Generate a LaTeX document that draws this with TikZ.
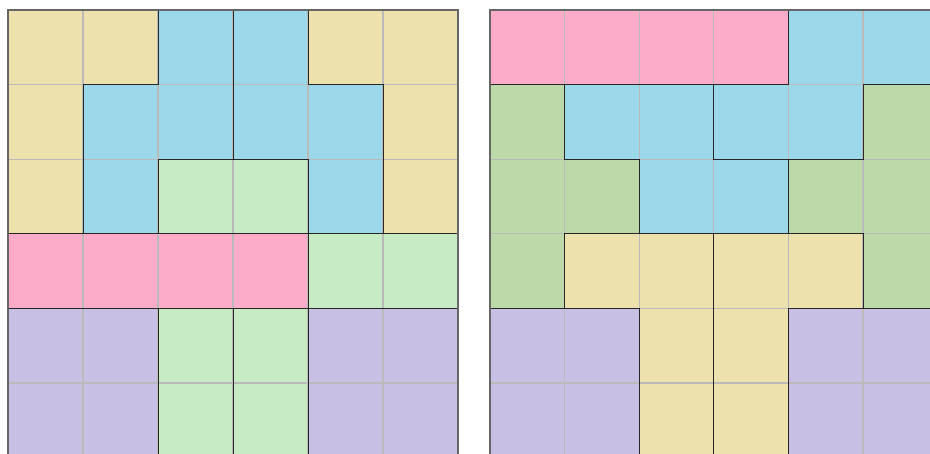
\documentclass[tikz,border=0pt]{standalone}
\definecolor{cyel}{RGB}{237,225,174}
\definecolor{cblu}{RGB}{155,216,234}
\definecolor{cgrnA}{RGB}{198,235,197}
\definecolor{cgrnB}{RGB}{190,217,169}
\definecolor{cpnk}{RGB}{252,172,200}
\definecolor{cvio}{RGB}{199,192,228}
\tikzset{
  gridline/.style={draw=black!27,line width=1.1bp},
  piece/.style={draw=black!85,line width=1bp,line join=miter},
  outerline/.style={draw=black!60,line width=2bp},
}
\newcommand{\cellfill}[3]{\fill[#3] (#1,#2) rectangle ++(1,1);}
\newcommand{\gridlines}{\foreach \k in {1,...,5}{\draw[gridline] (\k,0) -- (\k,6); \draw[gridline] (0,\k) -- (6,\k);}}
\begin{document}
\begin{tikzpicture}[x=1bp,y=-1bp]
\useasboundingbox (0,0) rectangle (930,454);
\clip (0,0) rectangle (930,454);
% ---------- left grid ----------
\begin{scope}[shift={(8,10)},xscale=75,yscale=74.6]
  % row 0
  \cellfill{0}{0}{cyel}\cellfill{1}{0}{cyel}\cellfill{2}{0}{cblu}\cellfill{3}{0}{cblu}\cellfill{4}{0}{cyel}\cellfill{5}{0}{cyel}
  % row 1
  \cellfill{0}{1}{cyel}\cellfill{1}{1}{cblu}\cellfill{2}{1}{cblu}\cellfill{3}{1}{cblu}\cellfill{4}{1}{cblu}\cellfill{5}{1}{cyel}
  % row 2
  \cellfill{0}{2}{cyel}\cellfill{1}{2}{cblu}\cellfill{2}{2}{cgrnA}\cellfill{3}{2}{cgrnA}\cellfill{4}{2}{cblu}\cellfill{5}{2}{cyel}
  % row 3
  \cellfill{0}{3}{cpnk}\cellfill{1}{3}{cpnk}\cellfill{2}{3}{cpnk}\cellfill{3}{3}{cpnk}\cellfill{4}{3}{cgrnA}\cellfill{5}{3}{cgrnA}
  % rows 4-5
  \foreach \r in {4,5}{
    \cellfill{0}{\r}{cvio}\cellfill{1}{\r}{cvio}\cellfill{2}{\r}{cgrnA}\cellfill{3}{\r}{cgrnA}\cellfill{4}{\r}{cvio}\cellfill{5}{\r}{cvio}
  }
  \gridlines
  % pieces
  \draw[piece] (0,0) -- (2,0) -- (2,1) -- (1,1) -- (1,3) -- (0,3) -- cycle;
  \draw[piece] (4,0) -- (6,0) -- (6,3) -- (5,3) -- (5,1) -- (4,1) -- cycle;
  \draw[piece] (2,0) -- (3,0) -- (3,2) -- (2,2) -- (2,3) -- (1,3) -- (1,1) -- (2,1) -- cycle;
  \draw[piece] (3,0) -- (4,0) -- (4,1) -- (5,1) -- (5,3) -- (4,3) -- (4,2) -- (3,2) -- cycle;
  \draw[piece] (2,2) rectangle (4,3);
  \draw[piece] (0,3) rectangle (4,4);
  \draw[piece] (4,3) rectangle (6,4);
  \draw[piece] (0,4) rectangle (2,6);
  \draw[piece] (2,4) rectangle (3,6);
  \draw[piece] (3,4) rectangle (4,6);
  \draw[piece] (4,4) rectangle (6,6);
  \draw[outerline] (0,0) rectangle (6,6);
\end{scope}
% ---------- right grid ----------
\begin{scope}[shift={(490,10)},xscale=74.6,yscale=74.6]
  % row 0
  \cellfill{0}{0}{cpnk}\cellfill{1}{0}{cpnk}\cellfill{2}{0}{cpnk}\cellfill{3}{0}{cpnk}\cellfill{4}{0}{cblu}\cellfill{5}{0}{cblu}
  % row 1
  \cellfill{0}{1}{cgrnB}\cellfill{1}{1}{cblu}\cellfill{2}{1}{cblu}\cellfill{3}{1}{cblu}\cellfill{4}{1}{cblu}\cellfill{5}{1}{cgrnB}
  % row 2
  \cellfill{0}{2}{cgrnB}\cellfill{1}{2}{cgrnB}\cellfill{2}{2}{cblu}\cellfill{3}{2}{cblu}\cellfill{4}{2}{cgrnB}\cellfill{5}{2}{cgrnB}
  % row 3
  \cellfill{0}{3}{cgrnB}\cellfill{1}{3}{cyel}\cellfill{2}{3}{cyel}\cellfill{3}{3}{cyel}\cellfill{4}{3}{cyel}\cellfill{5}{3}{cgrnB}
  % rows 4-5
  \foreach \r in {4,5}{
    \cellfill{0}{\r}{cvio}\cellfill{1}{\r}{cvio}\cellfill{2}{\r}{cyel}\cellfill{3}{\r}{cyel}\cellfill{4}{\r}{cvio}\cellfill{5}{\r}{cvio}
  }
  \gridlines
  % pieces
  \draw[piece] (0,0) rectangle (4,1);
  \draw[piece] (4,0) -- (6,0) -- (6,1) -- (5,1) -- (5,2) -- (3,2) -- (3,1) -- (4,1) -- cycle;
  \draw[piece] (0,1) -- (1,1) -- (1,2) -- (2,2) -- (2,3) -- (1,3) -- (1,4) -- (0,4) -- cycle;
  \draw[piece] (1,1) -- (3,1) -- (3,2) -- (4,2) -- (4,3) -- (2,3) -- (2,2) -- (1,2) -- cycle;
  \draw[piece] (5,1) -- (6,1) -- (6,4) -- (5,4) -- (5,3) -- (4,3) -- (4,2) -- (5,2) -- cycle;
  \draw[piece] (1,3) -- (3,3) -- (3,6) -- (2,6) -- (2,4) -- (1,4) -- cycle;
  \draw[piece] (3,3) -- (5,3) -- (5,4) -- (4,4) -- (4,6) -- (3,6) -- cycle;
  \draw[piece] (0,4) rectangle (2,6);
  \draw[piece] (4,4) rectangle (6,6);
  \draw[outerline] (0,0) rectangle (6,6);
\end{scope}
\end{tikzpicture}
\end{document}
